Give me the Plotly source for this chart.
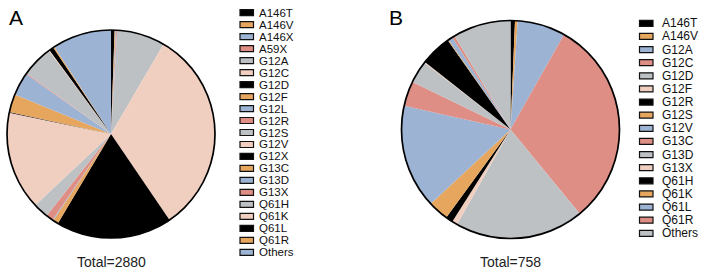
import plotly.graph_objects as go

W, H = 708, 273

labels_a = ["A146T", "A146V", "A146X", "A59X", "G12A", "G12C", "G12D", "G12F", "G12L", "G12R",
            "G12S", "G12V", "G12X", "G13C", "G13D", "G13X", "Q61H", "Q61K", "Q61L", "Q61R", "Others"]
values_a = [16, 4, 3, 4, 216, 923, 520, 24, 4, 32, 68, 440, 4, 80, 104, 4, 140, 4, 20, 6, 264]
total_a = 2880

labels_b = ["A146T", "A146V", "G12A", "G12C", "G12D", "G12F", "G12R", "G12S", "G12V", "G13C",
            "G13D", "G13X", "Q61H", "Q61K", "Q61L", "Q61R", "Others"]
values_b = [5, 3, 54, 234, 145, 6, 8, 23, 117, 28, 25, 1, 35, 1, 5, 3, 65]
total_b = 758

palette = ["#000000", "#E6A65E", "#9CB3D4", "#DF8E86", "#BEC1C4", "#F0CFC0"]


def px(x):
    return x / W


def py(y):
    return 1 - y / H


def dom(cx, cy, r):
    return dict(x=[px(cx - r), px(cx + r)], y=[py(cy + r), py(cy - r)])


fig = go.Figure()

panels = [
    dict(labels=labels_a, values=values_a, total=total_a, cx=111, cy=134, r=104, tag="A", tagx=7, tagy=17,
         lg_sx=240, lg_tx=258, lg_y0=12.7, lg_dy=11.98, fs=11.5),
    dict(labels=labels_b, values=values_b, total=total_b, cx=510.5, cy=129.5, r=109, tag="B", tagx=387, tagy=17,
         lg_sx=639.5, lg_tx=661, lg_y0=23.3, lg_dy=13.125, fs=12),
]

shapes = []
annotations = []
for p in panels:
    d = dom(p["cx"], p["cy"], p["r"])
    cols = [palette[i % len(palette)] for i in range(len(p["labels"]))]
    fig.add_trace(go.Pie(labels=p["labels"], values=p["values"], sort=False, direction="clockwise",
                         rotation=0, domain=d, textinfo="none", showlegend=False,
                         marker=dict(colors=cols, line=dict(width=0))))
    # outer outline of the pie
    shapes.append(dict(type="circle", xref="paper", yref="paper", layer="above",
                       x0=px(p["cx"] - p["r"]), x1=px(p["cx"] + p["r"]),
                       y0=py(p["cy"] + p["r"]), y1=py(p["cy"] - p["r"]),
                       line=dict(color="black", width=1.7), fillcolor="rgba(0,0,0,0)"))
    # panel tag
    annotations.append(dict(x=px(p["tagx"]), y=py(p["tagy"]), xref="paper", yref="paper", text=p["tag"],
                            showarrow=False, xanchor="left", yanchor="middle",
                            font=dict(size=21, color="black")))
    # total label
    annotations.append(dict(x=px(p["cx"]), y=py(262), xref="paper", yref="paper",
                            text=f"Total={p['total']}", showarrow=False, xanchor="center", yanchor="middle",
                            font=dict(size=14, color="#222222")))
    # legend
    for i, lab in enumerate(p["labels"]):
        yc = p["lg_y0"] + i * p["lg_dy"]
        shapes.append(dict(type="rect", xref="paper", yref="paper",
                           x0=px(p["lg_sx"]), x1=px(p["lg_sx"] + 13.5),
                           y0=py(yc + 3), y1=py(yc - 3),
                           fillcolor=cols[i], line=dict(color="#111111", width=1.2)))
        annotations.append(dict(x=px(p["lg_tx"]), y=py(yc), xref="paper", yref="paper", text=lab,
                                showarrow=False, xanchor="left", yanchor="middle", borderpad=0,
                                font=dict(size=p["fs"], color="#111111")))

fig.update_layout(width=W, height=H, margin=dict(l=0, r=0, t=0, b=0),
                  paper_bgcolor="white", plot_bgcolor="white",
                  font=dict(family="Liberation Sans, Arial, sans-serif"),
                  shapes=shapes, annotations=annotations)

fig.write_html("out.html", config={"displayModeBar": False},
               post_script="document.body.style.margin='0';document.body.style.overflow='hidden';")
